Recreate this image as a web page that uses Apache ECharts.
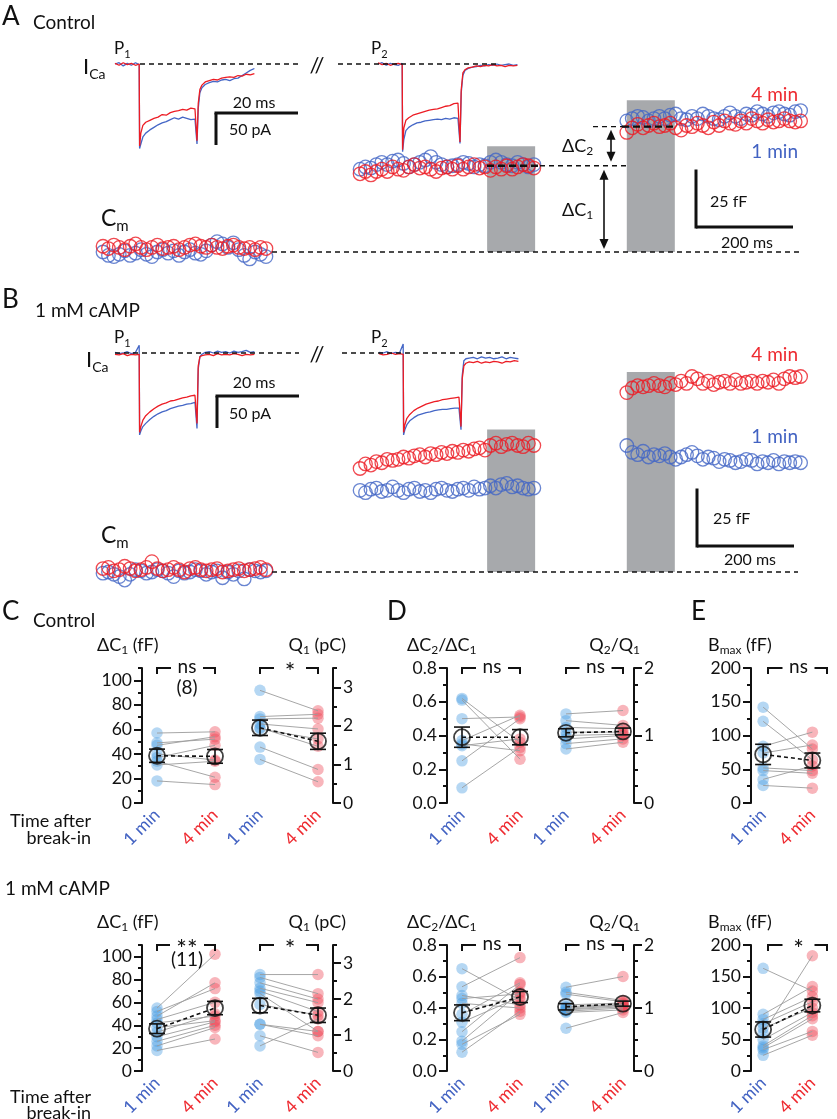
<!DOCTYPE html>
<html>
<head>
<meta charset="utf-8">
<script src="https://cdn.jsdelivr.net/npm/echarts@6.0.0/dist/echarts.min.js"></script>
<style>
html,body{margin:0;padding:0;background:#ffffff;}
#chart{width:837px;height:1119px;}
</style>
</head>
<body>
<div id="chart"></div>
<script>
// ================= DATA =================
const groups = ['1 min', '4 min'];

// I_Ca sweeps: sample times (ms) and currents (pA)
const icaTime = [0, 1, 2, 3, 4, 5, 5.9, 6.0, 6.3, 6.8, 7.5, 8.5, 9.5, 10.5, 11.5, 12.5, 13.5, 14.5, 15.5, 16.5, 17.5, 18.5, 19.5, 19.9, 20.0, 20.3, 20.7, 21.2, 22, 23, 24, 25, 26, 27, 28, 29, 30, 31, 32, 33, 34];
const icaCtrlP1_1min = [0, 2, -3, 1, -2, 2, -1, -132, -125, -114, -108, -103, -99, -95, -92, -90, -87, -84, -86, -83, -85, -87, -86, -88, -125, -70, -45, -37, -32, -29, -27, -28, -25, -24, -26, -23, -22, -18, -14, -10, -7];
const icaCtrlP1_4min = [1, -2, 2, -1, 1, -2, 0, -128, -108, -96, -91, -88, -85, -83, -79, -80, -76, -74, -73, -71, -72, -69, -70, -68, -120, -62, -40, -33, -28, -26, -24, -25, -22, -21, -20, -21, -18, -19, -16, -17, -15];
const icaCtrlP2_1min = [0, 2, -2, 1, -1, -2, 1, -137, -118, -104, -99, -95, -92, -91, -89, -88, -87, -86, -87, -85, -86, -84, -85, -84, -124, -45, -18, -10, -7, -5, -4, -2, -3, -1, -2, 0, -2, -1, 0, -2, -1];
const icaCtrlP2_4min = [2, -1, 1, -2, 0, 1, -1, -134, -100, -88, -84, -80, -78, -76, -74, -72, -71, -70, -68, -66, -65, -62, -61, -60, -122, -40, -14, -9, -6, -5, -3, -4, -2, -3, -1, -3, -2, -4, -2, -3, -2];
const icaCampP1_1min = [1, -1, 0, 2, -1, 1, 12, -128, -122, -115, -110, -104, -99, -95, -92, -90, -87, -85, -83, -82, -80, -79, -77, -77, -118, -25, -6, -2, 1, 2, 0, 3, 1, 2, 0, 3, 1, 2, 4, 1, 2];
const icaCampP1_4min = [-2, -3, -1, -4, -2, -3, -2, -124, -115, -105, -98, -92, -87, -83, -80, -78, -75, -74, -72, -70, -69, -67, -66, -65, -110, -20, -6, -4, -3, -2, -4, -1, -3, -2, -3, -1, -2, -4, -2, -3, -2];
const icaCampP2_1min = [1, 0, 2, -1, 1, 0, 14, -128, -120, -112, -106, -101, -97, -95, -93, -92, -90, -89, -88, -88, -87, -86, -86, -85, -120, -35, -12, -9, -8, -7, -9, -6, -8, -7, -9, -8, -6, -9, -7, -8, -9];
const icaCampP2_4min = [-1, -3, -2, 0, -2, -1, -2, -124, -112, -102, -96, -90, -86, -83, -80, -78, -76, -75, -73, -72, -71, -70, -69, -68, -115, -40, -20, -16, -14, -15, -13, -16, -14, -15, -13, -14, -16, -13, -14, -12, -13];

// Cm (fF above resting), three segments per cell, one sample every CM_DT ms
const CM_DT = 11.2;
const cmSegStart = [0, 530, 1080];           // ms
const pulseOn = [792, 1080], pulseOff = [891, 1179];   // depolarisation blocks (ms)
const pulseTopCtrl = [46, 66], pulseTopCamp = [62, 87]; // fF
const cmCtrl_1min = [
  [0, -1.5, -2, -1, 0.5, -1.5, -0.5, 1, -1, -2, 0, 1, -0.5, 0.5, -1.5, 0, 1, -0.5, -1, 0.5, 3, 4.5, 3.5, 2, 4, 1, -1.5, -3, 0, -1, -2],
  [36, 37, 36.5, 38, 39, 38, 39.5, 40, 38.5, 37, 38, 39, 40, 41.5, 39, 38, 37, 37.5, 38, 39, 38.5, 37, 38, 37.5, 39, 40, 39, 38, 37.5, 39, 38, 37, 38],
  [57, 58, 59, 58.5, 57, 58, 59, 58, 59.5, 60, 58, 57.5, 59, 58, 60, 59, 58, 57.5, 59, 60.5, 59, 58, 60, 59.5, 61, 60, 59, 60.5, 61, 60, 59.5, 61, 61.5]
];
const cmCtrl_4min = [
  [2.5, 1.5, 3, 2, 1, 2.5, 3.5, 2, 1, 2, 3, 1.5, 2, 2.5, 1, 2, 3, 3.5, 2.5, 2, 3, 2, 1.5, 2.5, 3, 2, 1.5, 2, 1, 2, 1.5],
  [34, 35, 33.5, 35, 36, 35, 37, 36, 35.5, 37, 38, 36.5, 37, 36, 35, 36.5, 37, 36, 37.5, 36, 37, 38, 36.5, 37, 35.5, 37, 36, 37.5, 36, 37, 38, 37.5, 36.5],
  [52, 54, 55.5, 54, 55, 56, 54.5, 55, 56, 54, 53, 55, 54.5, 56, 55, 54, 56.5, 55, 57, 56, 55.5, 57, 56, 58, 57, 56, 57.5, 56.5, 57, 58, 57, 56.5, 57]
];
const cmCamp_1min = [
  [-0.5, 0, -1, -2, -3.5, -1, 1, 0.5, -0.5, 0, 1, 0.5, -0.5, -2, 0.5, -0.5, 0, 1, 0.5, -1, 0, 0.5, -2.5, 0, -1, 0.5, -3, 1, 0.5, 0, 0.5],
  [35.5, 34.5, 36, 36.5, 35, 35.5, 37, 35.5, 34.5, 36, 36.5, 35, 35.5, 34.5, 36, 36.5, 35.5, 35, 36, 36.5, 35.5, 37, 36, 36.5, 37.5, 36.5, 38, 38.5, 37, 37.5, 36.5, 36, 36.5],
  [55, 52, 51, 52.5, 50, 51, 50.5, 51.5, 50, 49, 50, 51, 52, 50.5, 49, 50, 49.5, 48, 49, 48.5, 47.5, 48, 49, 48.5, 47, 48, 47.5, 48.5, 47, 48, 47.5, 48, 47.5]
];
const cmCamp_4min = [
  [1.5, 2, 0.5, 1, 2.5, 1.5, 0.5, 1, 2, 4.5, 1.5, 0.5, 1, 2, 1, 0, 1.5, 2, 1, 0.5, 1, 1.5, 0, 0.5, 1, 1.5, 0.5, 1, 1.5, 2, 1],
  [45, 47, 46.5, 48, 47.5, 49, 48.5, 49, 50, 49.5, 50.5, 51, 50, 51.5, 51, 52, 51.5, 52.5, 52, 53, 52.5, 53.5, 54, 53, 55, 56, 54.5, 55.5, 56, 55, 54.5, 56, 55],
  [78, 80, 81, 80.5, 81, 82, 81, 80.5, 82, 81.5, 83, 82, 85, 84, 82, 83, 81.5, 82.5, 83, 82, 83.5, 82, 82.5, 83, 82, 83, 82.5, 83.5, 82, 84, 85, 84.5, 85]
];
const levelC1 = 37.5, levelC2 = 54.5; // fF, control example

// Summary data (paired cells)
const dC1Ctrl_1 = [57, 49, 47, 40, 37, 34, 31, 18];
const dC1Ctrl_4 = [58, 52, 54, 35, 47, 21, 34, 15];
const dC1Ctrl_mean = [38.5, 38], dC1Ctrl_sem = [5.4, 5.6];
const q1Ctrl_1 = [2.92, 2.24, 2.18, 2.05, 1.92, 1.95, 1.45, 1.13];
const q1Ctrl_4 = [2.39, 2.3, 2.2, 1.92, 1.66, 1.47, 0.87, 0.55];
const q1Ctrl_mean = [1.95, 1.6], q1Ctrl_sem = [0.2, 0.21];
const ratioCtrl_1 = [0.62, 0.61, 0.50, 0.37, 0.35, 0.34, 0.25, 0.09];
const ratioCtrl_4 = [0.36, 0.26, 0.51, 0.52, 0.31, 0.38, 0.50, 0.33];
const ratioCtrl_mean = [0.39, 0.39], ratioCtrl_sem = [0.06, 0.045];
const qrCtrl_1 = [1.32, 1.22, 1.12, 1.05, 1.0, 0.95, 0.88, 0.8];
const qrCtrl_4 = [1.37, 1.15, 1.1, 1.05, 1.02, 1.0, 0.95, 0.9];
const qrCtrl_mean = [1.04, 1.06], qrCtrl_sem = [0.06, 0.05];
const bmaxCtrl_1 = [142, 121, 84, 74, 52, 48, 35, 26];
const bmaxCtrl_4 = [80, 64, 105, 86, 48, 44, 55, 22];
const bmaxCtrl_mean = [72, 63], bmaxCtrl_sem = [15, 11];

const dC1Camp_1 = [55, 52, 48, 45, 42, 38, 34, 30, 26, 22, 18];
const dC1Camp_4 = [102, 72, 77, 60, 48, 44, 50, 43, 40, 38, 28];
const dC1Camp_mean = [37, 55], dC1Camp_sem = [4.2, 5.8];
const q1Camp_1 = [2.68, 2.6, 2.45, 2.3, 2.22, 2.15, 1.85, 1.3, 1.3, 0.98, 0.7];
const q1Camp_4 = [2.68, 2.15, 2.0, 1.9, 1.65, 1.1, 1.55, 1.1, 0.98, 0.52, 1.45];
const q1Camp_mean = [1.82, 1.55], q1Camp_sem = [0.2, 0.2];
const ratioCamp_1 = [0.65, 0.535, 0.48, 0.46, 0.43, 0.36, 0.31, 0.25, 0.19, 0.17, 0.12];
const ratioCamp_4 = [0.45, 0.72, 0.42, 0.49, 0.40, 0.56, 0.47, 0.55, 0.50, 0.36, 0.38];
const ratioCamp_mean = [0.37, 0.47], ratioCamp_sem = [0.05, 0.035];
const qrCamp_1 = [1.33, 1.25, 1.22, 1.05, 1.02, 1.0, 0.98, 0.97, 0.95, 0.93, 0.68];
const qrCamp_4 = [1.5, 1.12, 1.1, 1.08, 1.06, 1.05, 1.04, 1.02, 1.0, 0.97, 0.93];
const qrCamp_mean = [1.02, 1.07], qrCamp_sem = [0.05, 0.04];
const bmaxCamp_1 = [163, 90, 82, 75, 68, 60, 50, 40, 37, 34, 25];
const bmaxCamp_4 = [127, 134, 118, 110, 100, 183, 93, 88, 83, 63, 57];
const bmaxCamp_mean = [66, 104], bmaxCamp_sem = [12, 10];

// Axis tick labels
const dC1Ticks = [0, 20, 40, 60, 80, 100];
const q1Ticks = [0, 1, 2, 3];
const ratioTicks = [0, 0.2, 0.4, 0.6, 0.8];
const qrTicks = [0, 1, 2];
const bmaxTicks = [0, 50, 100, 150, 200];

const sigCtrl = ['ns', '*', 'ns', 'ns', 'ns'];
const sigCamp = ['**', '*', 'ns', 'ns', '*'];
const nCtrl = '(8)', nCamp = '(11)';

// ================= STYLE / LAYOUT =================
const FONT = 'Lato';
const INK = '#111111';
const TRACE_BLUE = '#4466c6', TRACE_RED = '#ec1c24';
const LBL_BLUE = '#4262c2', LBL_RED = '#ee2a30';
const DOT_BLUE = 'rgba(70,155,225,0.5)', DOT_RED = 'rgba(238,70,85,0.5)';
const GRAY = '#a7a9ac';

const ICA_SX = 4.1, ICA_SY = 0.64;      // px per ms, px per pA
const CM_SX = 0.485, CM_SY = 2.3;       // px per ms, px per fF
const CM_X0 = 103;

const grid = [], xAxis = [], yAxis = [], series = [], graphics = [];

function addHiddenGrid(x0, y0, sx, sy, xr, yr) {
  const gi = grid.length;
  grid.push({left: x0 + xr[0] * sx, top: y0 - yr[1] * sy, width: (xr[1] - xr[0]) * sx, height: (yr[1] - yr[0]) * sy});
  xAxis.push({type: 'value', gridIndex: gi, min: xr[0], max: xr[1], show: false});
  yAxis.push({type: 'value', gridIndex: gi, min: yr[0], max: yr[1], show: false});
  return {xi: xAxis.length - 1, yi: yAxis.length - 1};
}

function addIca(x0, y0, blue, red) {
  const ax = addHiddenGrid(x0, y0, ICA_SX, ICA_SY, [0, 36], [-150, 20]);
  [[blue, TRACE_BLUE], [red, TRACE_RED]].forEach(([arr, col], k) => {
    series.push({type: 'line', xAxisIndex: ax.xi, yAxisIndex: ax.yi, silent: true, clip: false,
      data: icaTime.map((t, i) => [t, arr[i]]), symbol: 'none', z: 3 + k,
      lineStyle: {color: col, width: 1.3}});
  });
}

function addCm(y0, blueSegs, redSegs, pulseTop) {
  const ax = addHiddenGrid(CM_X0, y0, CM_SX, CM_SY, [-20, 1500], [-10, 100]);
  series.push({type: 'custom', xAxisIndex: ax.xi, yAxisIndex: ax.yi, silent: true, z: 1,
    data: pulseOn.map((s, i) => [s, pulseOff[i], pulseTop[i]]),
    encode: {x: [0, 1], y: 2},
    renderItem: (p, api) => {
      const a = api.coord([api.value(0), 0]);
      const b = api.coord([api.value(1), api.value(2)]);
      return {type: 'rect', shape: {x: a[0], y: b[1], width: b[0] - a[0], height: a[1] - b[1]}, style: {fill: GRAY}};
    }});
  [[blueSegs, TRACE_BLUE, 3], [redSegs, TRACE_RED, 4]].forEach(([segs, col, z]) => {
    const data = [];
    segs.forEach((seg, s) => seg.forEach((v, i) => data.push([cmSegStart[s] + i * CM_DT, v])));
    series.push({type: 'scatter', xAxisIndex: ax.xi, yAxisIndex: ax.yi, silent: true, z,
      symbol: 'circle', symbolSize: 13.5, data,
      itemStyle: {color: 'rgba(0,0,0,0)', borderColor: col, borderWidth: 1.3}});
  });
}

function fmt(v, dec) { return dec ? Number(v).toFixed(dec) : String(v); }

function addStat(c) {
  const gi = grid.length;
  const d = c.p2 - c.p1;
  const left = c.p1 - d / 2, width = 2 * d;
  grid.push({left, top: c.top, width, height: 135});
  xAxis.push({type: 'category', gridIndex: gi, data: groups, boundaryGap: true,
    axisLine: {show: false}, axisTick: {show: false}, splitLine: {show: false},
    axisLabel: {interval: 0, rotate: 45, margin: 9,
      formatter: (v, i) => '{g' + i + '|' + v + '}',
      rich: {g0: {color: LBL_BLUE, fontSize: 17.5, fontFamily: FONT}, g1: {color: LBL_RED, fontSize: 17.5, fontFamily: FONT}}}});
  const xi = xAxis.length - 1;
  const offset = c.side === 'left' ? left - c.ax : c.ax - (left + width);
  const minor = [];
  for (let i = 0; i * c.minor <= c.max + 1e-9; i++) minor.push(Math.round(i * c.minor * 1000) / 1000);
  const base = {type: 'value', gridIndex: gi, position: c.side, offset, min: 0, max: c.max, splitLine: {show: false}};
  yAxis.push(Object.assign({}, base, {interval: c.minor,
    axisLine: {show: true, lineStyle: {color: INK, width: 2}},
    axisTick: {show: true, length: 4, customValues: minor, lineStyle: {color: INK, width: 2}},
    axisLabel: {show: false}}));
  yAxis.push(Object.assign({}, base, {interval: c.major,
    axisLine: {show: false},
    axisTick: {show: true, length: 8, customValues: c.ticks, lineStyle: {color: INK, width: 2}},
    axisLabel: {show: true, customValues: c.ticks, margin: 10, color: INK, fontSize: 17.5, fontFamily: FONT,
      formatter: v => (c.ticks.some(t => Math.abs(t - v) < 1e-6) ? fmt(v, c.dec) : '')}}));
  const yi = yAxis.length - 1;
  // individual cells
  series.push({type: 'scatter', xAxisIndex: xi, yAxisIndex: yi, silent: true, z: 2, symbolSize: 11.5,
    data: c.one.map(v => [0, v]), itemStyle: {color: DOT_BLUE}});
  series.push({type: 'scatter', xAxisIndex: xi, yAxisIndex: yi, silent: true, z: 2, symbolSize: 11.5,
    data: c.four.map(v => [1, v]), itemStyle: {color: DOT_RED}});
  // pairing lines
  series.push({type: 'custom', xAxisIndex: xi, yAxisIndex: yi, silent: true, z: 3,
    data: c.one.map((v, i) => [0, v, c.four[i]]),
    renderItem: (p, api) => {
      const a = api.coord([0, api.value(1)]), b = api.coord([1, api.value(2)]);
      return {type: 'line', shape: {x1: a[0], y1: a[1], x2: b[0], y2: b[1]}, style: {stroke: '#9c9c9c', lineWidth: 0.9}};
    }});
  // mean dashed line
  series.push({type: 'line', xAxisIndex: xi, yAxisIndex: yi, silent: true, z: 5, symbol: 'none',
    data: [[0, c.mean[0]], [1, c.mean[1]]], lineStyle: {color: INK, width: 1.6, type: [4, 3]}});
  // SEM error bars
  series.push({type: 'custom', xAxisIndex: xi, yAxisIndex: yi, silent: true, z: 6,
    data: [[0, c.mean[0], c.sem[0]], [1, c.mean[1], c.sem[1]]],
    renderItem: (p, api) => {
      const x = api.value(0), m = api.value(1), s = api.value(2);
      const t = api.coord([x, m + s]), b = api.coord([x, m - s]);
      const st = {stroke: INK, lineWidth: 1.6};
      return {type: 'group', children: [
        {type: 'line', shape: {x1: t[0], y1: t[1], x2: b[0], y2: b[1]}, style: st},
        {type: 'line', shape: {x1: t[0] - 8, y1: t[1], x2: t[0] + 8, y2: t[1]}, style: st},
        {type: 'line', shape: {x1: b[0] - 8, y1: b[1], x2: b[0] + 8, y2: b[1]}, style: st}
      ]};
    }});
  // mean markers
  series.push({type: 'scatter', xAxisIndex: xi, yAxisIndex: yi, silent: true, z: 7, symbolSize: 16,
    data: [[0, c.mean[0]], [1, c.mean[1]]],
    itemStyle: {color: 'rgba(0,0,0,0)', borderColor: INK, borderWidth: 1.8}});
  // significance bracket
  const by = c.top;
  const xc = (c.p1 + c.p2) / 2 + 1;
  const gh = c.sig === '**' ? 17 : 16;
  graphics.push({type: 'polyline', z: 50, shape: {points: [[c.p1, by + 6], [c.p1, by], [xc - gh, by]]}, style: {stroke: INK, lineWidth: 2, fill: 'none'}});
  graphics.push({type: 'polyline', z: 50, shape: {points: [[xc + gh, by], [c.p2, by], [c.p2, by + 6]]}, style: {stroke: INK, lineWidth: 2, fill: 'none'}});
  if (c.sig === 'ns') txt(xc, by - 1, 'ns', 19, {align: 'center'});
  else txt(xc, by + 5, c.sig, 25, {align: 'center'});
  if (c.n) txt(xc, c.top + (c.top > 800 ? 15 : 20), c.n, 19, {align: 'center'});
}

function txt(x, y, text, size, o) {
  o = o || {};
  const style = {text, fill: o.color || INK, fontSize: size, fontFamily: FONT,
    align: o.align || 'left', verticalAlign: 'middle', textAlign: o.align || 'left', textVerticalAlign: 'middle'};
  if (o.rich) style.rich = o.rich;
  graphics.push({type: 'text', x, y, z: 100, silent: true, style});
}
function subTxt(x, y, parts, size, subSize, align) {
  const text = parts.map(p => (p[1] ? '{s|' : '{m|') + p[0] + '}').join('');
  const rich = {
    m: {fontSize: size, fontFamily: FONT, fill: INK, lineHeight: Math.round(size * 1.3)},
    s: {fontSize: subSize, fontFamily: FONT, fill: INK, verticalAlign: 'bottom'}
  };
  txt(x, y, text, size, {rich, align});
}
function hline(x1, x2, y, w, dash) {
  graphics.push({type: 'line', z: 40, silent: true, shape: {x1, y1: y, x2, y2: y}, style: {stroke: INK, lineWidth: w, lineDash: dash || null}});
}
function vline(x, y1, y2, w) {
  graphics.push({type: 'line', z: 40, silent: true, shape: {x1: x, y1, x2: x, y2}, style: {stroke: INK, lineWidth: w}});
}
function dblArrow(x, yTop, yBot) {
  vline(x, yTop + 6, yBot - 6, 1.6);
  graphics.push({type: 'polygon', z: 41, silent: true, shape: {points: [[x, yTop], [x - 4.5, yTop + 10], [x + 4.5, yTop + 10]]}, style: {fill: INK}});
  graphics.push({type: 'polygon', z: 41, silent: true, shape: {points: [[x, yBot], [x - 4.5, yBot - 10], [x + 4.5, yBot - 10]]}, style: {fill: INK}});
}

// ================= PANEL A / B: traces =================
const A_ICA_Y0 = 64, B_ICA_Y0 = 353;
const A_CM_Y0 = 252, B_CM_Y0 = 572;
addIca(115, A_ICA_Y0, icaCtrlP1_1min, icaCtrlP1_4min);
addIca(378, A_ICA_Y0, icaCtrlP2_1min, icaCtrlP2_4min);
addIca(115, B_ICA_Y0, icaCampP1_1min, icaCampP1_4min);
addIca(379, B_ICA_Y0, icaCampP2_1min, icaCampP2_4min);
addCm(A_CM_Y0, cmCtrl_1min, cmCtrl_4min, pulseTopCtrl);
addCm(B_CM_Y0, cmCamp_1min, cmCamp_4min, pulseTopCamp);

const DASH = [5, 4];
hline(140, 300, A_ICA_Y0, 1.3, DASH); hline(338, 500, A_ICA_Y0, 1.3, DASH);
hline(115, 299, B_ICA_Y0, 1.3, DASH); hline(342, 515, B_ICA_Y0, 1.3, DASH);
hline(272, 800, A_CM_Y0, 1.3, DASH);
hline(272, 798, B_CM_Y0, 1.3, DASH);
const yC1 = A_CM_Y0 - levelC1 * CM_SY, yC2 = A_CM_Y0 - levelC2 * CM_SY;
hline(487, 540, yC1, 2.4, [7, 4]); hline(540, 628, yC1, 1.3, DASH);
hline(593, 622, yC2, 1.3, DASH); hline(622, 673, yC2, 2.4, [7, 4]);
dblArrow(611, yC2 + 3, yC1 - 4);
dblArrow(604, yC1 + 4, A_CM_Y0 - 3);
function icaBar(x, y) { hline(x - 1.5, x + 20 * ICA_SX, y, 3); vline(x, y, y + 50 * ICA_SY, 3); }
function cmBar(x, y) { vline(x, y - 25 * CM_SY, y + 1.5, 3); hline(x, x + 200 * CM_SX, y, 3); }
icaBar(216, 113); icaBar(217, 396);
cmBar(696, 227); cmBar(697, 546);

// texts panel A
txt(2, 17, 'A', 26);
txt(33, 23, 'Control', 19);
subTxt(114, 49, [['P', 0], ['1', 1]], 17, 11);
subTxt(371, 49, [['P', 0], ['2', 1]], 17, 11);
subTxt(83, 67, [['I', 0], ['Ca', 1]], 22, 14);
txt(317, 66, '//', 22, {align: 'center'});
txt(254, 103, '20 ms', 16, {align: 'center'});
txt(250, 130, '50 pA', 16, {align: 'center'});
subTxt(101, 219, [['C', 0], ['m', 1]], 23, 15);
subTxt(562, 146, [['ΔC', 0], ['2', 1]], 18, 12);
subTxt(562, 210, [['ΔC', 0], ['1', 1]], 18, 12);
txt(798, 95, '4 min', 19, {align: 'right', color: LBL_RED});
txt(798, 152, '1 min', 19, {align: 'right', color: LBL_BLUE});
txt(710, 202, '25 fF', 16);
txt(747, 243, '200 ms', 16, {align: 'center'});

// texts panel B
txt(2, 300, 'B', 26);
txt(35, 311, '1 mM cAMP', 19);
subTxt(114, 338, [['P', 0], ['1', 1]], 17, 11);
subTxt(371, 338, [['P', 0], ['2', 1]], 17, 11);
subTxt(86, 360, [['I', 0], ['Ca', 1]], 22, 14);
txt(317, 355, '//', 22, {align: 'center'});
txt(254, 383, '20 ms', 16, {align: 'center'});
txt(250, 414, '50 pA', 16, {align: 'center'});
subTxt(101, 536, [['C', 0], ['m', 1]], 23, 15);
txt(798, 355, '4 min', 19, {align: 'right', color: LBL_RED});
txt(798, 437, '1 min', 19, {align: 'right', color: LBL_BLUE});
txt(713, 519, '25 fF', 16);
txt(750, 560, '200 ms', 16, {align: 'center'});

// ================= PANELS C, D, E =================
const ROW_TOP = [668, 945];
const AXES = {
  dC1: {max: 110, major: 20, minor: 10, ticks: dC1Ticks, dec: 0},
  q1: {max: 3.5, major: 1, minor: 0.5, ticks: q1Ticks, dec: 0},
  ratio: {max: 0.8, major: 0.2, minor: 0.1, ticks: ratioTicks, dec: 1},
  qr: {max: 2, major: 1, minor: 0.25, ticks: qrTicks, dec: 0},
  bmax: {max: 200, major: 50, minor: 25, ticks: bmaxTicks, dec: 0}
};
const LAYOUT = [
  {key: 'dC1', p1: 157, p2: 215, ax: 142, side: 'left'},
  {key: 'q1', p1: 260, p2: 318, ax: 333, side: 'right'},
  {key: 'ratio', p1: 462, p2: 520, ax: 447, side: 'left'},
  {key: 'qr', p1: 566, p2: 623, ax: 634, side: 'right'},
  {key: 'bmax', p1: 768, p2: 827, ax: 751, side: 'left'}
];
const ROWS = [
  {sig: sigCtrl, n: nCtrl, sets: [
    [dC1Ctrl_1, dC1Ctrl_4, dC1Ctrl_mean, dC1Ctrl_sem],
    [q1Ctrl_1, q1Ctrl_4, q1Ctrl_mean, q1Ctrl_sem],
    [ratioCtrl_1, ratioCtrl_4, ratioCtrl_mean, ratioCtrl_sem],
    [qrCtrl_1, qrCtrl_4, qrCtrl_mean, qrCtrl_sem],
    [bmaxCtrl_1, bmaxCtrl_4, bmaxCtrl_mean, bmaxCtrl_sem]]},
  {sig: sigCamp, n: nCamp, sets: [
    [dC1Camp_1, dC1Camp_4, dC1Camp_mean, dC1Camp_sem],
    [q1Camp_1, q1Camp_4, q1Camp_mean, q1Camp_sem],
    [ratioCamp_1, ratioCamp_4, ratioCamp_mean, ratioCamp_sem],
    [qrCamp_1, qrCamp_4, qrCamp_mean, qrCamp_sem],
    [bmaxCamp_1, bmaxCamp_4, bmaxCamp_mean, bmaxCamp_sem]]}
];
ROWS.forEach((row, r) => {
  LAYOUT.forEach((L, k) => {
    const s = row.sets[k];
    addStat(Object.assign({}, AXES[L.key], L, {top: ROW_TOP[r], one: s[0], four: s[1], mean: s[2], sem: s[3],
      sig: row.sig[k], n: k === 0 ? row.n : null}));
  });
  const ty = ROW_TOP[r] - 23;
  subTxt(97, ty, [['ΔC', 0], ['1', 1], [' (fF)', 0]], 18, 12);
  subTxt(346, ty, [['Q', 0], ['1', 1], [' (pC)', 0]], 18, 12, 'right');
  subTxt(407, ty, [['ΔC', 0], ['2', 1], ['/ΔC', 0], ['1', 1]], 18, 12);
  subTxt(640, ty, [['Q', 0], ['2', 1], ['/Q', 0], ['1', 1]], 18, 12, 'right');
  subTxt(708, ty, [['B', 0], ['max', 1], [' (fF)', 0]], 18, 12);
  txt(91, ROW_TOP[r] + 153 - r * 1, 'Time after', 18, {align: 'right'});
  txt(91, ROW_TOP[r] + 170 - r * 2, 'break-in', 18, {align: 'right'});
});
txt(2, 612, 'C', 26);
txt(33, 621, 'Control', 19);
txt(387, 612, 'D', 26);
txt(691, 612, 'E', 26);
txt(5, 889, '1 mM cAMP', 19);

// ================= RENDER =================
const chart = echarts.init(document.getElementById('chart'), null, {renderer: 'canvas', width: 837, height: 1119});
chart.setOption({
  animation: false,
  backgroundColor: '#ffffff',
  textStyle: {fontFamily: FONT},
  grid, xAxis, yAxis, series,
  graphic: {elements: graphics}
});
</script>
</body>
</html>
